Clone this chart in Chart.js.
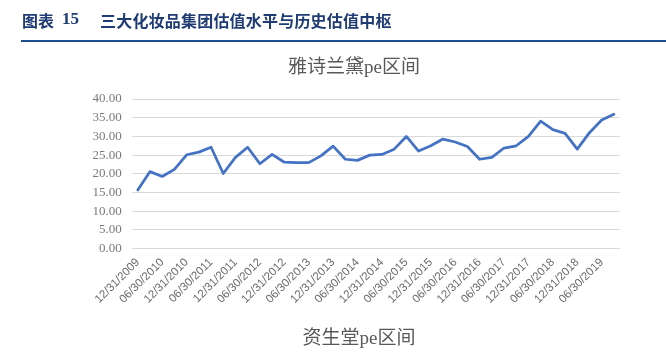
<!DOCTYPE html>
<html>
<head>
<meta charset="utf-8">
<script src="https://cdn.jsdelivr.net/npm/chart.js@4.4.0/dist/chart.umd.min.js"></script>
<style>
  html, body { margin: 0; padding: 0; background: #ffffff; }
  body { width: 666px; height: 355px; position: relative; overflow: hidden; }
  #wrap { position: absolute; left: 0; top: 0; width: 666px; height: 355px; }
  .hdr { position: absolute; top: 9px; font-size: 16px; font-weight: bold; color: #1f3b73; line-height: 22px; white-space: nowrap; }
  .cjk { font-family: "Noto Sans CJK SC", sans-serif; }
  .num { font-family: "Liberation Serif", serif; font-size: 17px; }
  #rule { position: absolute; left: 21px; right: 0; top: 40px; height: 2px; background: #1f4e8f; }
  #next { position: absolute; left: 0; width: 718px; text-align: center; top: 326px; font-family: "Liberation Serif", "Noto Sans CJK SC", serif; font-size: 19px; color: #595959; line-height: 24px; white-space: nowrap; }
</style>
</head>
<body>
<div id="wrap"><canvas id="c" width="666" height="355"></canvas></div>
<div class="hdr cjk" style="left:22px;">图表</div>
<div class="hdr num" style="left:62px; top:8px;">15</div>
<div class="hdr cjk" style="left:100px; letter-spacing:0.2px;">三大化妆品集团估值水平与历史估值中枢</div>
<div id="rule"></div>
<div id="next">资生堂pe区间</div>
<script>
const chartTitle = "雅诗兰黛pe区间";
const categories = [
  "12/31/2009","03/31/2010","06/30/2010","09/30/2010","12/31/2010","03/31/2011","06/30/2011","09/30/2011",
  "12/31/2011","03/31/2012","06/30/2012","09/30/2012","12/31/2012","03/31/2013","06/30/2013","09/30/2013",
  "12/31/2013","03/31/2014","06/30/2014","09/30/2014","12/31/2014","03/31/2015","06/30/2015","09/30/2015",
  "12/31/2015","03/31/2016","06/30/2016","09/30/2016","12/31/2016","03/31/2017","06/30/2017","09/30/2017",
  "12/31/2017","03/31/2018","06/30/2018","09/30/2018","12/31/2018","03/31/2019","06/30/2019","09/30/2019"
];
const peValues = [
  15.7, 20.6, 19.3, 21.2, 25.1, 25.8, 27.1, 20.1,
  24.4, 27.1, 22.7, 25.2, 23.1, 23.0, 23.0, 24.8,
  27.4, 23.9, 23.6, 25.0, 25.2, 26.6, 30.0, 26.1,
  27.5, 29.3, 28.5, 27.3, 23.9, 24.4, 26.9, 27.5,
  30.0, 34.1, 31.8, 30.8, 26.6, 31.0, 34.4, 35.9
];
const yMin = 0, yMax = 40, yStep = 5;

new Chart(document.getElementById('c'), {
  type: 'line',
  data: {
    labels: categories,
    datasets: [{
      data: peValues,
      borderColor: '#4472c4',
      borderWidth: 2.75,
      pointRadius: 0,
      pointHoverRadius: 0,
      tension: 0,
      fill: false,
      borderJoinStyle: 'round',
      borderCapStyle: 'round'
    }]
  },
  options: {
    responsive: false,
    animation: false,
    devicePixelRatio: 1,
    layout: { padding: { left: 88, right: 46, top: 57, bottom: 0 } },
    plugins: {
      legend: { display: false },
      tooltip: { enabled: false },
      title: {
        display: true,
        text: chartTitle,
        color: '#595959',
        font: { family: '"Liberation Serif", "Noto Sans CJK SC", serif', size: 19, weight: 'normal', lineHeight: 1.2 },
        padding: { top: 0, bottom: 19.2 }
      }
    },
    scales: {
      x: {
        offset: true,
        grid: { display: false, drawTicks: false },
        border: { display: false },
        ticks: {
          autoSkip: false,
          maxRotation: 45,
          minRotation: 45,
          padding: 7,
          color: '#6b6b6b',
          font: { family: '"Liberation Sans", Arial, sans-serif', size: 11.5 },
          callback: function(v, i) { return i % 2 === 0 ? categories[i] : ''; }
        },
        afterFit: function(s) { s.height = 355 - 248.7; }
      },
      y: {
        min: yMin,
        max: yMax,
        grid: { color: '#d9d9d9', lineWidth: 1, drawTicks: false },
        border: { display: false },
        ticks: {
          stepSize: yStep,
          padding: 10,
          color: '#7a7a7a',
          font: { family: '"Liberation Serif", serif', size: 13 },
          callback: function(v) { return Number(v).toFixed(2); }
        },
        afterFit: function(s) { s.width = 131.7 - 88; }
      }
    }
  }
});
</script>
</body>
</html>
